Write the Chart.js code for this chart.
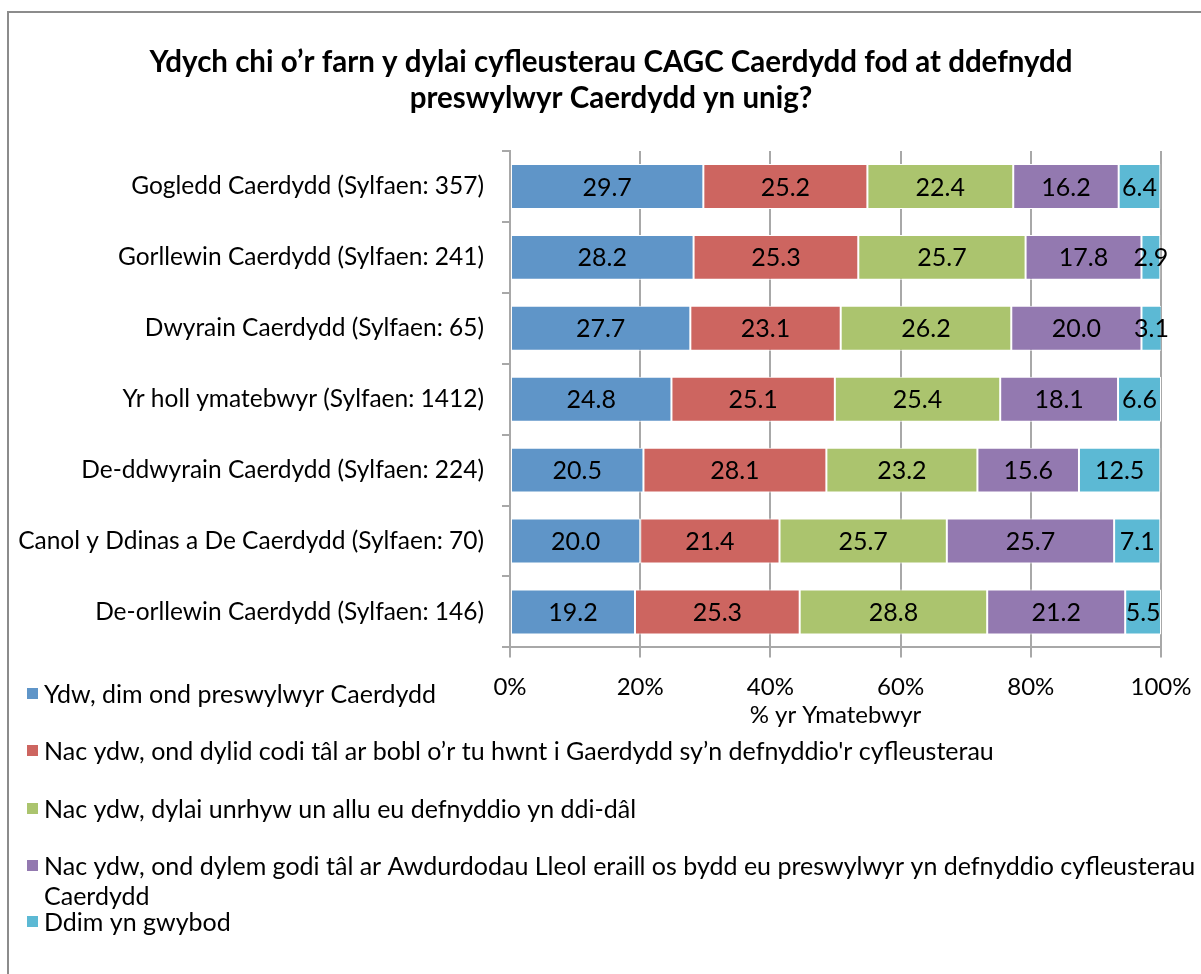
<!DOCTYPE html>
<html>
<head>
<meta charset="utf-8">
<script src="https://cdn.jsdelivr.net/npm/chart.js@4"></script>
<style>
  html, body { margin: 0; padding: 0; background: #fff; }
</style>
</head>
<body>
<canvas id="chart" width="1201" height="974"></canvas>
<script>
// Chart data
const titleLines = [
    'Ydych chi o’r farn y dylai cyfleusterau CAGC Caerdydd fod at ddefnydd',
    'preswylwyr Caerdydd yn unig?'
];
const categories = [
    'Gogledd Caerdydd (Sylfaen: 357)',
    'Gorllewin Caerdydd (Sylfaen: 241)',
    'Dwyrain Caerdydd (Sylfaen: 65)',
    'Yr holl ymatebwyr (Sylfaen: 1412)',
    'De-ddwyrain Caerdydd (Sylfaen: 224)',
    'Canol y Ddinas a De Caerdydd (Sylfaen: 70)',
    'De-orllewin Caerdydd (Sylfaen: 146)'
];
const seriesNames = [
    'Ydw, dim ond preswylwyr Caerdydd',
    'Nac ydw, ond dylid codi tâl ar bobl o’r tu hwnt i Gaerdydd sy’n defnyddio\'r cyfleusterau',
    'Nac ydw, dylai unrhyw un allu eu defnyddio yn ddi-dâl',
    'Nac ydw, ond dylem godi tâl ar Awdurdodau Lleol eraill os bydd eu preswylwyr yn defnyddio cyfleusterau\nCaerdydd',
    'Ddim yn gwybod'
];
const ydwYnUnig    = [29.7, 28.2, 27.7, 24.8, 20.5, 20.0, 19.2];
const codiTalBobl  = [25.2, 25.3, 23.1, 25.1, 28.1, 21.4, 25.3];
const ddiDal       = [22.4, 25.7, 26.2, 25.4, 23.2, 25.7, 28.8];
const codiTalALl   = [16.2, 17.8, 20.0, 18.1, 15.6, 25.7, 21.2];
const ddimYnGwybod = [6.4, 2.9, 3.1, 6.6, 12.5, 7.1, 5.5];
const xTicks = [0, 20, 40, 60, 80, 100];
const xTitle = '% yr Ymatebwyr';

const colours = ['#5f95c8', '#cd6560', '#abc46e', '#9379b0', '#5cb9d4'];
const FONT = 'Lato, "Open Sans", sans-serif';
const gridGrey = '#a8a8a8';

const seriesValues = [ydwYnUnig, codiTalBobl, ddiDal, codiTalALl, ddimYnGwybod];

// frame + title
const framePlugin = {
    id: 'frameTitle',
    beforeDraw(chart) {
        const ctx = chart.ctx;
        ctx.save();
        ctx.fillStyle = '#fff';
        ctx.fillRect(0, 0, chart.width, chart.height);
        ctx.strokeStyle = '#8c8c8c';
        ctx.lineWidth = 2;
        ctx.strokeRect(8, 12, 1400, 1400);
        ctx.fillStyle = '#000';
        ctx.font = 'bold 29.5px ' + FONT;
        ctx.textAlign = 'center';
        ctx.textBaseline = 'middle';
        ctx.fillText(titleLines[0], 611, 62);
        ctx.fillText(titleLines[1], 611, 98);
        ctx.restore();
    }
};

// values inside the bars
const valueLabels = {
    id: 'valueLabels',
    afterDatasetsDraw(chart) {
        const ctx = chart.ctx;
        ctx.save();
        ctx.font = '25px ' + FONT;
        ctx.fillStyle = '#000';
        ctx.textAlign = 'center';
        ctx.textBaseline = 'middle';
        chart.data.datasets.forEach(function(ds, i) {
            chart.getDatasetMeta(i).data.forEach(function(bar, j) {
                const cx = (bar.x + bar.base) / 2;
                ctx.fillText(ds.data[j].toFixed(1), cx, bar.y + 1);
            });
        });
        ctx.restore();
    }
};

// legend down the left side, like the original
const sideLegend = {
    id: 'sideLegend',
    afterDraw(chart) {
        const ctx = chart.ctx;
        const rows = [695, 752, 810, 867, 923];
        ctx.save();
        ctx.font = '25px ' + FONT;
        ctx.textAlign = 'left';
        ctx.textBaseline = 'middle';
        chart.data.datasets.forEach(function(ds, i) {
            const y = rows[i];
            ctx.fillStyle = ds.backgroundColor;
            ctx.fillRect(27, y - 7, 11, 11);
            ctx.fillStyle = '#000';
            ds.label.split('\n').forEach(function(line, k) {
                ctx.fillText(line, 44, y + k * 30);
            });
        });
        ctx.restore();
    }
};

const ctx = document.getElementById('chart').getContext('2d');
new Chart(ctx, {
    type: 'bar',
    data: {
        labels: categories,
        datasets: seriesNames.map(function(name, i) {
            return {
                label: name,
                data: seriesValues[i],
                backgroundColor: colours[i],
                borderColor: '#ffffff',
                borderWidth: 1,
                borderSkipped: false,
                barPercentage: 0.634,
                categoryPercentage: 1
            };
        })
    },
    options: {
        indexAxis: 'y',
        responsive: false,
        animation: false,
        layout: { padding: { top: 151, right: 40, left: 0, bottom: 244 } },
        plugins: {
            legend: { display: false },
            title: { display: false },
            tooltip: { enabled: false }
        },
        scales: {
            x: {
                stacked: true,
                min: 0,
                max: 100,
                afterBuildTicks: function(scale) {
                    scale.ticks = xTicks.map(function(v) { return { value: v }; });
                },
                afterFit: function(scale) {
                    scale.paddingLeft = 0;
                    scale.paddingRight = 0;
                },
                ticks: {
                    color: '#000',
                    font: { family: FONT, size: 24 },
                    padding: 15,
                    callback: function(value) { return value + '%'; }
                },
                grid: { color: gridGrey, lineWidth: 2, tickLength: 10 },
                border: { display: true, color: gridGrey, width: 2 },
                title: {
                    display: true,
                    text: xTitle,
                    color: '#000',
                    font: { family: FONT, size: 24 },
                    padding: { top: -15, bottom: 0 }
                }
            },
            y: {
                stacked: true,
                afterFit: function(scale) { scale.width = 510; },
                ticks: {
                    color: '#000',
                    font: { family: FONT, size: 24.5 },
                    padding: 18
                },
                grid: { offset: true, drawOnChartArea: false, color: gridGrey, lineWidth: 2, tickLength: 8 },
                border: { display: true, color: gridGrey, width: 2 }
            }
        }
    },
    plugins: [framePlugin, valueLabels, sideLegend]
});
</script>
</body>
</html>
